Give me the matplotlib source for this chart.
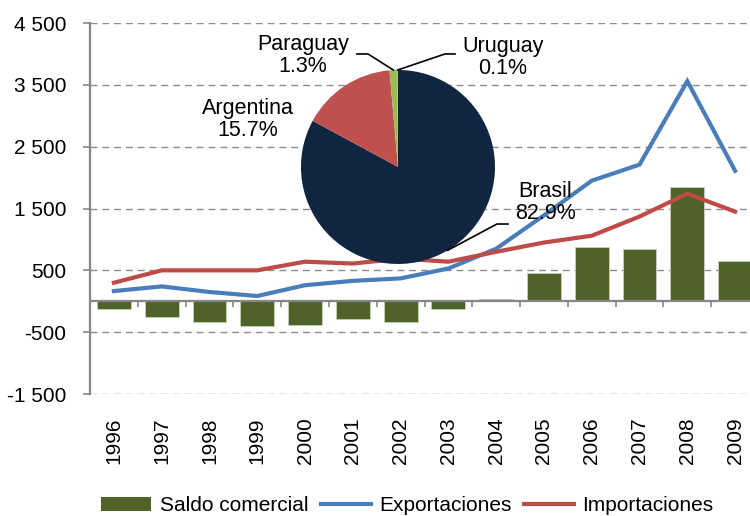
"""Uruguay trade balance chart with regional share pie"""

import numpy as np
import matplotlib
matplotlib.use("Agg")
import matplotlib.pyplot as plt
from matplotlib.patches import Patch
from matplotlib.lines import Line2D

plt.rcParams['font.family'] = ['Liberation Sans', 'DejaVu Sans']

# data
years = ['1996', '1997', '1998', '1999', '2000', '2001', '2002',
         '2003', '2004', '2005', '2006', '2007', '2008', '2009']
saldo = [-130, -260, -340, -400, -380, -290, -340, -130, 30, 450, 870, 840, 1840, 650]
exportaciones = [165, 240, 150, 85, 260, 330, 370, 530, 850, 1390, 1950, 2210, 3560, 2110]
importaciones = [300, 500, 500, 500, 640, 610, 690, 640, 800, 950, 1060, 1370, 1740, 1450]

y_ticks = [-1500, -500, 500, 1500, 2500, 3500, 4500]
y_tick_labels = ['-1 500', '-500', '500', '1 500', '2 500', '3 500', '4 500']

paises = ['Brasil', 'Argentina', 'Paraguay', 'Uruguay']
shares = [82.9, 15.7, 1.3, 0.1]

# colours
GREEN = '#4f6228'
BLUE = '#4a7ebb'
RED = '#be4b48'
GRAY = '#868686'
pie_colors = ['#10253f', '#c0504d', '#9bbb59', '#9bbb59']
FS = 15

fig = plt.figure(figsize=(7.5, 5.16), dpi=100)
ax = fig.add_axes([0.12, 0.2364, 0.892, 0.719])

x = np.arange(len(years))
ax.bar(x, saldo, width=0.71, color=GREEN, edgecolor='#c9cfbd', linewidth=0.6, zorder=2)
ax.plot(x, exportaciones, color=BLUE, lw=3, zorder=3, solid_joinstyle='miter')
ax.plot(x, importaciones, color=RED, lw=3, zorder=3, solid_joinstyle='miter')

ax.set_xlim(-0.5, len(years) - 0.5)
ax.set_ylim(-1500, 4500)
ax.set_yticks(y_ticks)
ax.set_yticklabels(y_tick_labels)
ax.yaxis.grid(True, linestyle=(0, (5, 3.5)), color='#8c8c8c', lw=1.0, zorder=0)
ax.tick_params(axis='y', length=5, color=GRAY, width=1.2, pad=12, labelsize=FS)

ax.set_xticks(x)
ax.set_xticklabels(years, rotation=90)
ax.tick_params(axis='x', length=0, pad=17, labelsize=FS)

for side in ['top', 'right', 'bottom']:
    ax.spines[side].set_visible(False)
ax.spines['left'].set_color(GRAY)
ax.spines['left'].set_linewidth(1.6)

# zero line with category separators
ax.axhline(0, color=GRAY, lw=1.6, zorder=4)
bounds = np.arange(len(years) + 1) - 0.5
ax.vlines(bounds, -85, 0, color=GRAY, lw=1.2, zorder=4)

# legend
handles = [Patch(facecolor=GREEN),
           Line2D([0], [0], color=BLUE, lw=3),
           Line2D([0], [0], color=RED, lw=3)]
fig.legend(handles, ['Saldo comercial', 'Exportaciones', 'Importaciones'],
           loc='center', bbox_to_anchor=(0.543, 0.02), ncol=3, frameon=False,
           fontsize=FS, handlelength=2.4, handletextpad=0.4, columnspacing=0.6)

# inset pie
pax = fig.add_axes([0.4013, 0.4884, 0.2587, 0.376])
pax.pie(shares, colors=pie_colors, startangle=90, counterclock=False,
        wedgeprops=dict(linewidth=0))
pax.set_xlim(-1, 1)
pax.set_ylim(-1, 1)
pax.set_aspect('equal')

label_pos = [(1.52, -0.37), (-1.55, 0.49), (-0.98, 1.15), (1.08, 1.13)]
for name, share, pos in zip(paises, shares, label_pos):
    pax.text(pos[0], pos[1], f'{name}\n{share}%', ha='center', va='center',
             multialignment='center', fontsize=FS + 0.5, linespacing=1.05,
             clip_on=False, zorder=5)

# leader lines (label -> bend -> wedge edge)
cum = np.cumsum([0] + shares[:-1])
mid = np.radians(90 - 3.6 * (cum + np.array(shares) / 2))
leaders = {0: [(1.134, -0.588), (1.02, -0.588)],
           2: [(-0.423, 1.165), (-0.309, 1.165)],
           3: [(0.588, 1.165), (0.485, 1.165)]}
for i, pts in leaders.items():
    xs = [p[0] for p in pts] + [np.cos(mid[i])]
    ys = [p[1] for p in pts] + [np.sin(mid[i])]
    pax.plot(xs, ys, color='black', lw=1.2, clip_on=False, zorder=5)

fig.savefig('out.png', dpi=100)
